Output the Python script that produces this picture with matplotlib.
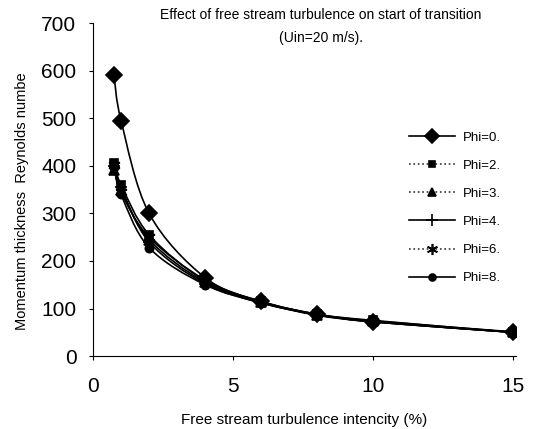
#Free stream turbulence vs momentum thickness Reynolds number at start of transition

import matplotlib.pyplot as plt
import numpy as np
from matplotlib.path import Path
from matplotlib.patches import PathPatch

plt.rcParams['font.family'] = ['Liberation Sans', 'DejaVu Sans']

tu = [0.75, 1, 2, 4, 6, 8, 10, 15]   # free stream turbulence intensity (%)
re_phi0 = [590, 495, 300, 165, 115, 88, 72, 50]
re_phi2 = [405, 360, 255, 158, 115, 88, 75, 50]
re_phi3 = [392, 350, 245, 155, 113, 87, 73, 50]
re_phi4 = [400, 355, 240, 152, 112, 87, 72, 50]
re_phi6 = [402, 345, 250, 160, 114, 88, 74, 51]
re_phi8 = [398, 340, 228, 150, 112, 86, 72, 50]
labels = ['Phi=0.', 'Phi=2.', 'Phi=3.', 'Phi=4.', 'Phi=6.', 'Phi=8.']

series = [re_phi0, re_phi2, re_phi3, re_phi4, re_phi6, re_phi8]
markers = ['D', 's', '^', '+', (6, 2, 0), 'o']
msizes = [8, 6, 7, 9, 9, 6]
lcols = ['black', '#333333', '#333333', 'black', '#333333', 'black']
lstyles = ['-', ':', ':', '-', ':', '-']


#smoothed line like the spreadsheet one (catmull-rom as bezier)
def smooth_path(x, y):
    x = np.asarray(x, float); y = np.asarray(y, float)
    verts = [(x[0], y[0])]
    codes = [Path.MOVETO]
    n = len(x)
    for i in range(n - 1):
        i0 = max(i - 1, 0); i3 = min(i + 2, n - 1)
        c1 = (x[i] + (x[i+1] - x[i0]) / 6, y[i] + (y[i+1] - y[i0]) / 6)
        c2 = (x[i+1] - (x[i3] - x[i]) / 6, y[i+1] - (y[i3] - y[i]) / 6)
        verts += [c1, c2, (x[i+1], y[i+1])]
        codes += [Path.CURVE4] * 3
    return Path(verts, codes)


fig = plt.figure(figsize=(5.35, 4.29), dpi=100)
ax = fig.add_axes([0.174, 0.170, 0.790, 0.776])

for k in range(len(series)):
    ax.add_patch(PathPatch(smooth_path(tu, series[k]), fill=False, color='black', lw=1.2))
    ax.plot(tu, series[k], linestyle='none', marker=markers[k], markersize=msizes[k],
            color='black', mew=1.2)
    # legend proxy
    ax.plot([], [], linestyle=lstyles[k], color=lcols[k], lw=1.2, marker=markers[k],
            markersize=msizes[k] - 1, mew=1.2, markerfacecolor='black',
            markeredgecolor='black', label=labels[k])

ax.set_xlim(0, 15.1)
ax.set_ylim(0, 700)
ax.set_xticks([0, 5, 10, 15])
ax.set_yticks(range(0, 701, 100))
ax.spines['top'].set_visible(False)
ax.spines['right'].set_visible(False)
ax.tick_params(axis='both', direction='out', length=3, labelsize=15)
ax.tick_params(axis='x', pad=12)
ax.tick_params(axis='y', pad=9)

ax.set_xlabel('Free stream turbulence intencity (%)', size=11, labelpad=12)
fig.text(0.042, 0.53, 'Momentum thickness  Reynolds numbe', rotation=90,
         ha='center', va='center', size=10.5)
fig.text(0.60, 0.965, 'Effect of free stream turbulence on start of transition',
         ha='center', va='center', size=10)
fig.text(0.60, 0.911, '(Uin=20 m/s).', ha='center', va='center', size=10)

ax.legend(loc='upper left', bbox_to_anchor=(0.735, 0.69), frameon=False, fontsize=9.5,
          handlelength=3.5, labelspacing=1.2, borderaxespad=0, handletextpad=0.6)

fig.savefig('out.png', dpi=100)
